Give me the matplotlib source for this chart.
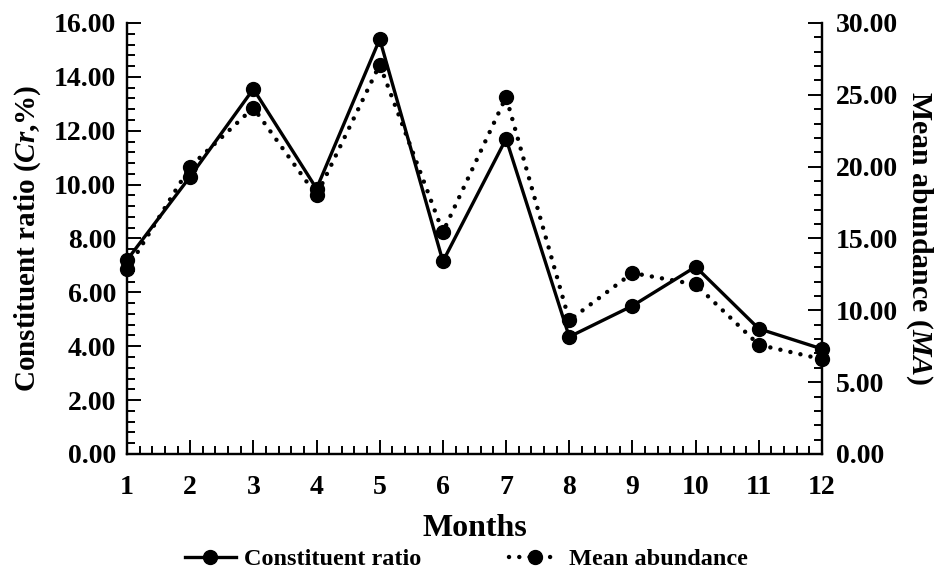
import matplotlib
matplotlib.use("Agg")
import matplotlib.pyplot as plt
from matplotlib.ticker import MultipleLocator, FormatStrFormatter

months = [1, 2, 3, 4, 5, 6, 7, 8, 9, 10, 11, 12]
constituent_ratio = [7.2, 10.3, 13.55, 9.85, 15.4, 7.15, 11.7, 4.35, 5.5, 6.95, 4.65, 3.9]
mean_abundance = [12.85, 20.0, 24.1, 18.0, 27.1, 15.45, 24.85, 9.3, 12.6, 11.8, 7.6, 6.6]

plt.rcParams['font.family'] = ['Liberation Serif', 'DejaVu Serif']
plt.rcParams['font.weight'] = 'bold'
plt.rcParams['mathtext.fontset'] = 'custom'
plt.rcParams['mathtext.it'] = 'Liberation Serif:bold:italic'
plt.rcParams['mathtext.rm'] = 'Liberation Serif:bold'

fig = plt.figure(figsize=(9.38, 5.72), dpi=100)
ax = fig.add_axes([0.1354, 0.2063, 0.7409, 0.7535])
ax2 = ax.twinx()

l1, = ax.plot(months, constituent_ratio, color='black', lw=2.4, marker='o',
              ms=10, clip_on=False, zorder=3, label='Constituent ratio')
l2, = ax2.plot(months, mean_abundance, color='black', lw=3.2, marker='o',
               ms=10, clip_on=False, zorder=3, label='Mean abundance',
               linestyle=(0, (0.01, 2.3)), dash_capstyle='round')

ax.set_xlim(1, 12)
ax.set_ylim(0, 16)
ax2.set_ylim(0, 30)

ax.xaxis.set_major_locator(MultipleLocator(1))
ax.xaxis.set_minor_locator(MultipleLocator(0.2))
ax.yaxis.set_major_locator(MultipleLocator(2))
ax.yaxis.set_minor_locator(MultipleLocator(0.4))
ax.yaxis.set_major_formatter(FormatStrFormatter('%.2f'))
ax2.yaxis.set_major_locator(MultipleLocator(5))
ax2.yaxis.set_minor_locator(MultipleLocator(1))
ax2.yaxis.set_major_formatter(FormatStrFormatter('%.2f'))

for a in (ax, ax2):
    a.spines['top'].set_visible(False)
    for s in a.spines.values():
        s.set_linewidth(1.6)
    a.tick_params(which='major', direction='in', length=10, width=1.4, labelsize=20)
    a.tick_params(which='minor', direction='in', length=6, width=1.4)
ax.tick_params(axis='x', pad=15)
ax.tick_params(axis='y', pad=8)
ax2.tick_params(axis='y', pad=10)

ax.set_xlabel('Months', fontsize=23, fontweight='bold', labelpad=10)
ax.set_ylabel(r'Constituent ratio ($\mathit{Cr}$,%)', fontsize=21,
              fontweight='bold', labelpad=8)
ax2.set_ylabel(r'Mean abundance ($\mathit{MA}$)', fontsize=21.5,
               fontweight='bold', rotation=270, labelpad=26)

fig.legend(handles=[l1, l2], loc='lower center', bbox_to_anchor=(0.497, -0.035),
           ncol=2, frameon=False, fontsize=17.5, handlelength=2.1,
           columnspacing=3.6, handletextpad=0.35)

fig.savefig('out.png', dpi=100)
